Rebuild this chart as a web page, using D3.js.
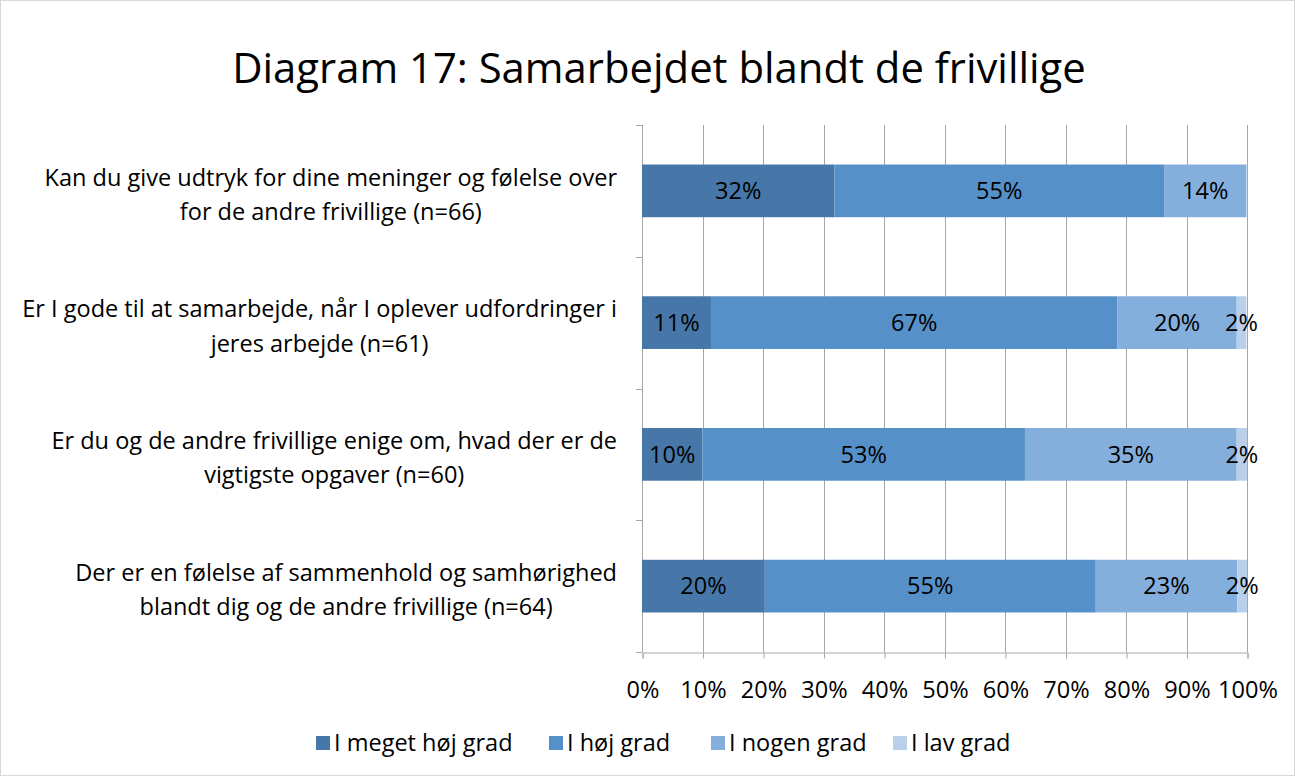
<!DOCTYPE html>
<html>
<head>
<meta charset="utf-8">
<style>
  body { margin: 0; background: #fff; }
  svg { font-family: "Open Sans", sans-serif; }
</style>
</head>
<body>
<script src="https://cdn.jsdelivr.net/npm/d3@7"></script>
<script>

// chart data (share of answers in %)
var title = "Diagram 17: Samarbejdet blandt de frivillige";
var questions = [
  ["Kan du give udtryk for dine meninger og følelse over", "for de andre frivillige (n=66)"],
  ["Er I gode til at samarbejde, når I oplever udfordringer i", "jeres arbejde (n=61)"],
  ["Er du og de andre frivillige enige om, hvad der er de", "vigtigste opgaver (n=60)"],
  ["Der er en følelse af sammenhold og samhørighed", "blandt dig og de andre frivillige (n=64)"]
];
var series = ["I meget høj grad", "I høj grad", "I nogen grad", "I lav grad"];
var meget = [31.8, 11.4, 10.0, 20.3];
var hoj   = [54.5, 67.2, 53.3, 54.7];
var nogen = [13.6, 19.7, 35.0, 23.4];
var lav   = [0, 1.6, 1.7, 1.6];
var ticks = [0, 10, 20, 30, 40, 50, 60, 70, 80, 90, 100];
var colors = ["#4677a8", "#5591c8", "#84aedc", "#b9cfea"];

var W = 1295, H = 776;
var svg = d3.select("body").append("svg")
    .attr("width", W).attr("height", H);

svg.append("rect")
    .attr("x", 0.5).attr("y", 0.5)
    .attr("width", W - 1).attr("height", H - 1)
    .attr("fill", "#fff").attr("stroke", "#d9d9d9");

// measure a string to size fonts so widths come out like the Calibri original
function measure(str, size) {
  var t = svg.append("text").attr("font-size", size).text(str);
  var w = t.node().getComputedTextLength();
  t.remove();
  return w;
}
var titleSize = 40 * 854 / measure(title, 40);
var fs = 20 * 595 / measure(questions[1][0], 20);

svg.append("text")
    .attr("x", 659).attr("y", 83)
    .attr("text-anchor", "middle")
    .attr("font-size", titleSize)
    .text(title);

var x = d3.scaleLinear().domain([0, 100]).range([642, 1247]);
var y = d3.scaleBand().domain(d3.range(questions.length)).range([125, 652])
    .paddingInner(0.6).paddingOuter(0.3);

// stacked rows
var rows = questions.map(function(q, i) {
  return { i: i, vals: [meget[i], hoj[i], nogen[i], lav[i]] };
});
var stack = d3.stack().keys([0, 1, 2, 3]).value(function(d, k) { return d.vals[k]; });
var layers = stack(rows);

// gridlines
svg.append("g").selectAll("line").data(ticks.slice(1)).join("line")
    .attr("x1", function(d) { return Math.round(x(d)) + 0.5; })
    .attr("x2", function(d) { return Math.round(x(d)) + 0.5; })
    .attr("y1", 125).attr("y2", 652)
    .attr("stroke", "#a6a6a6");

// x axis
var xAxis = svg.append("g")
    .attr("transform", "translate(0.5,652.5)")
    .call(d3.axisBottom(x).tickValues(ticks).tickSize(6)
        .tickFormat(function(d) { return d + "%"; }));
xAxis.select(".domain").attr("stroke", "#a6a6a6");
xAxis.selectAll(".tick line").attr("stroke", "#a6a6a6");
xAxis.selectAll(".tick text")
    .attr("font-family", "'Open Sans', sans-serif")
    .attr("font-size", fs).attr("fill", "#000")
    .attr("y", 37).attr("dy", "0.35em");

// y axis (category separators)
var bounds = d3.range(questions.length + 1);
var yStep = (652 - 125) / questions.length;
svg.append("line")
    .attr("x1", 642.5).attr("x2", 642.5).attr("y1", 125).attr("y2", 652)
    .attr("stroke", "#a6a6a6");
svg.append("g").selectAll("line").data(bounds).join("line")
    .attr("x1", 636).attr("x2", 642)
    .attr("y1", function(d) { return Math.round(125 + d * yStep) + 0.5; })
    .attr("y2", function(d) { return Math.round(125 + d * yStep) + 0.5; })
    .attr("stroke", "#a6a6a6");

// bars
var g = svg.append("g").selectAll("g").data(layers).join("g")
    .attr("fill", function(d) { return colors[d.key]; });
g.selectAll("rect").data(function(d) { return d; }).join("rect")
    .attr("x", function(d) { return x(d[0]); })
    .attr("width", function(d) { return x(d[1]) - x(d[0]); })
    .attr("y", function(d) { return y(d.data.i); })
    .attr("height", y.bandwidth());

// data labels
var fmt = function(v) { return Math.round(v) + "%"; };
svg.append("g").selectAll("g").data(layers).join("g")
  .selectAll("text").data(function(d) { return d.filter(function(s) { return s[1] - s[0] > 0; }); })
  .join("text")
    .attr("x", function(d) { return (x(d[0]) + x(d[1])) / 2; })
    .attr("y", function(d) { return y(d.data.i) + y.bandwidth() / 2; })
    .attr("dy", "0.35em")
    .attr("text-anchor", "middle")
    .attr("font-size", fs)
    .text(function(d) { return fmt(d[1] - d[0]); });

// category labels, two centred lines
var cx = 320;
var lab = svg.append("g").selectAll("text").data(questions).join("text")
    .attr("y", function(d, i) { return y(i) + y.bandwidth() / 2; })
    .attr("text-anchor", "middle")
    .attr("font-size", fs);
lab.selectAll("tspan").data(function(d) { return d; }).join("tspan")
    .attr("dy", function(d, j) { return j === 0 ? "-0.22em" : "1.45em"; })
    .text(function(d) { return d; });
lab.each(function() {
  var sp = d3.select(this).selectAll("tspan").nodes();
  var w = d3.max(sp, function(n) { return n.getComputedTextLength(); });
  sp.forEach(function(n) { d3.select(n).attr("x", 617 - w / 2); });
});

// legend
var legX = [316, 549, 711, 893];
var leg = svg.append("g").selectAll("g").data(series).join("g")
    .attr("transform", function(d, i) { return "translate(" + legX[i] + ",736)"; });
leg.append("rect").attr("width", 14).attr("height", 14)
    .attr("fill", function(d, i) { return colors[i]; });
leg.append("text").attr("x", 18).attr("y", 7).attr("dy", "0.36em")
    .attr("font-size", fs)
    .text(function(d) { return d; });

</script>
</body>
</html>
